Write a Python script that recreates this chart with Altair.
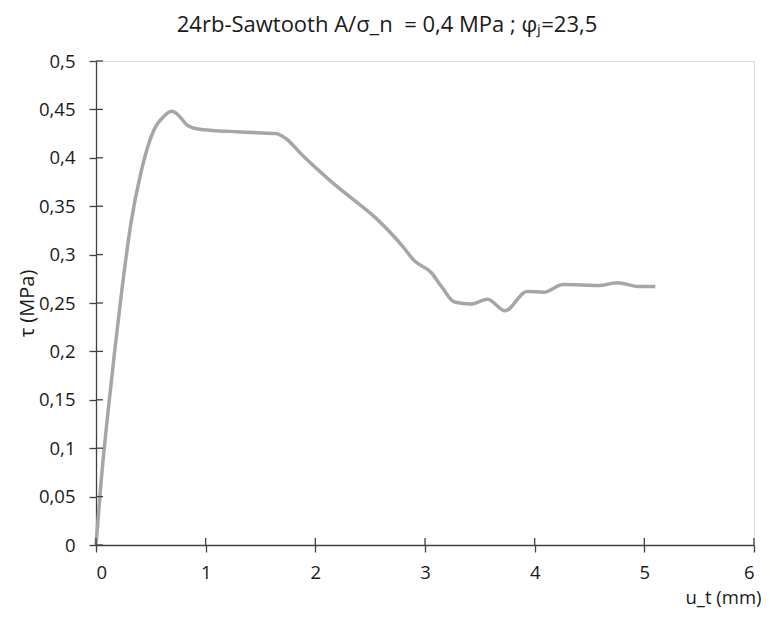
import altair as alt
import pandas as pd

u_t = [0, 0.05, 0.108, 0.17, 0.228, 0.318, 0.408, 0.529, 0.62, 0.693, 0.76, 0.828,
       0.918, 1.1, 1.28, 1.46, 1.64, 1.73, 1.88, 2.03, 2.18, 2.39, 2.54, 2.69, 2.80,
       2.90, 3.06, 3.15, 3.27, 3.42, 3.57, 3.73, 3.93, 4.08, 4.26, 4.59, 4.75, 4.95, 5.10]
tau = [0, 0.07, 0.136, 0.20, 0.256, 0.332, 0.384, 0.429, 0.443, 0.448, 0.443, 0.434,
       0.430, 0.428, 0.427, 0.426, 0.425, 0.420, 0.403, 0.387, 0.372, 0.353, 0.339, 0.322, 0.308,
       0.294, 0.281, 0.267, 0.251, 0.249, 0.254, 0.242, 0.262, 0.261, 0.269, 0.268, 0.271, 0.267, 0.267]

x_ticks = [0, 1, 2, 3, 4, 5, 6]
y_ticks = [0, 0.05, 0.1, 0.15, 0.2, 0.25, 0.3, 0.35, 0.4, 0.45, 0.5]

df = pd.DataFrame({"u": u_t, "tau": tau})
xt = pd.DataFrame({"xt": x_ticks})
yt = pd.DataFrame({"yt": y_ticks})

FONT = "Open Sans"
AX = "#404040"
TXT = "#1a1a1a"
W, H = 658, 484
PAD_R = 8
label_expr = "replace(format(datum.value, '.2~f'), '.', ',')"

xscale = alt.Scale(domain=[0, 6], nice=False)
yscale = alt.Scale(domain=[0, 0.5], nice=False)

line = alt.Chart(df).mark_line(color="#a6a6a6", strokeWidth=3.5, interpolate="monotone").encode(
    x=alt.X("u:Q", scale=xscale,
            axis=alt.Axis(values=x_ticks, title="u_t (mm)", grid=False,
                          domainColor=AX, domainWidth=1.3, tickColor=AX, tickWidth=1.3,
                          tickSize=7, labelPadding=11, labelFont=FONT, labelFontSize=18.5,
                          labelColor=TXT, labelExpr=label_expr,
                          titleFont=FONT, titleFontSize=18.5, titleFontWeight="normal",
                          titleColor=TXT, titleAlign="right", titleAnchor="end",
                          titleX=W + PAD_R - 1, titleY=58, titleBaseline="alphabetic")),
    y=alt.Y("tau:Q", scale=yscale,
            axis=alt.Axis(values=y_ticks, title="τ (MPa)", grid=False,
                          domainColor=AX, domainWidth=1.3, tickColor=AX, tickWidth=1.3,
                          tickSize=7, labelPadding=14, labelFont=FONT, labelFontSize=18.5,
                          labelColor=TXT, labelExpr=label_expr,
                          titleFont=FONT, titleFontSize=20, titleFontWeight="normal",
                          titleColor=TXT, titleX=-69, titleY=242, titleAngle=-90,
                          titleBaseline="middle", titleAlign="center")),
)

ytick_in = alt.Chart(yt).mark_rule(color=AX, strokeWidth=1.3).encode(
    y=alt.Y("yt:Q", scale=yscale),
    x=alt.value(0), x2=alt.value(7),
)
xtick_in = alt.Chart(xt).mark_rule(color=AX, strokeWidth=1.3).encode(
    x=alt.X("xt:Q", scale=xscale),
    y=alt.value(H), y2=alt.value(H - 7),
)

chart = alt.layer(line, ytick_in, xtick_in).properties(
    width=W, height=H,
    autosize=alt.AutoSizeParams(type="none"),
    padding={"left": 88, "top": 53, "right": PAD_R, "bottom": 63},
    title=alt.TitleParams("24rb-Sawtooth A/σ_n\u00a0\u00a0= 0,4 MPa ; φⱼ=23,5", font=FONT,
                          fontSize=22, fontWeight="normal", color=TXT,
                          anchor="middle", dx=-38, offset=15),
).configure_view(stroke=None).configure(background="white")

chart.save("out.html", embed_options={"renderer": "svg", "actions": False})
